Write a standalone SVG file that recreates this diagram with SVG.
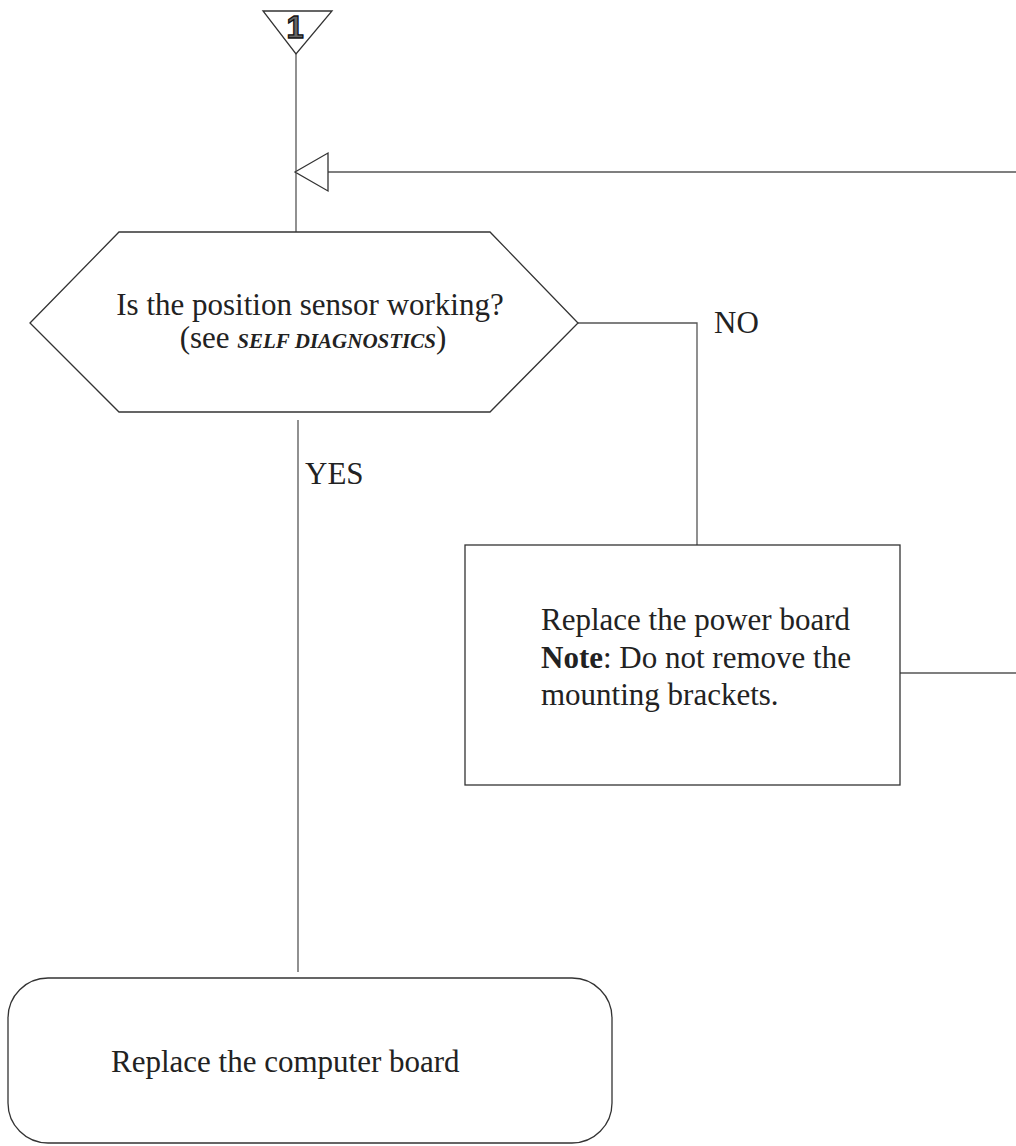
<svg xmlns="http://www.w3.org/2000/svg" width="1016" height="1146" viewBox="0 0 1016 1146">
  <style>
    .shape { fill: #fff; stroke: #333; stroke-width: 1.3; }
    .wire { fill: none; stroke: #555; stroke-width: 1.3; }
    .txt { font-family: "Liberation Serif", "Times New Roman", serif; font-size: 31px; fill: #222; }
    .lbl { font-family: "Liberation Serif", "Times New Roman", serif; font-size: 31px; fill: #222; }
  </style>

  <!-- off-page connector marker -->
  <g id="connector-1">
    <polygon class="shape" points="263,11 332,11 296,54"/>
    <text x="295" y="38" text-anchor="middle" font-family="Liberation Sans, Arial, sans-serif" font-weight="bold" font-size="31" fill="#666" stroke="#111" stroke-width="1.3">1</text>
  </g>

  <g id="connectors">
    <!-- entry into decision -->
    <line class="wire" x1="296" y1="54" x2="296" y2="232"/>
    <!-- return path from the right -->
    <line class="wire" x1="1016" y1="172" x2="328" y2="172"/>
    <polygon class="shape" points="295,172 328,153 328,191"/>
    <!-- NO branch -->
    <polyline class="wire" points="578,323 697,323 697,545"/>
    <!-- YES branch -->
    <line class="wire" x1="298" y1="420" x2="298" y2="972"/>
    <!-- power board out -->
    <line class="wire" x1="900" y1="673" x2="1016" y2="673"/>
    <text class="lbl" x="714" y="333">NO</text>
    <text class="lbl" x="305" y="484">YES</text>
  </g>

  <g id="decision-sensor">
    <polygon class="shape" points="30,323 119,232 490,232 578,323 490,412 119,412"/>
    <text class="txt" x="310" y="315" text-anchor="middle">Is the position sensor working?</text>
    <text class="txt" x="313" y="348" text-anchor="middle">(see <tspan font-size="21" font-weight="bold" font-style="italic">SELF DIAGNOSTICS</tspan>)</text>
  </g>

  <g id="step-power-board">
    <rect class="shape" x="465" y="545" width="435" height="240"/>
    <text class="txt" x="541" y="630">Replace the power board</text>
    <text class="txt" x="541" y="668"><tspan font-weight="bold">Note</tspan>: Do not remove the</text>
    <text class="txt" x="541" y="705">mounting brackets.</text>
  </g>

  <g id="step-computer-board">
    <rect class="shape" x="8" y="978" width="604" height="165" rx="40" ry="40"/>
    <text class="txt" x="111" y="1072">Replace the computer board</text>
  </g>
</svg>
